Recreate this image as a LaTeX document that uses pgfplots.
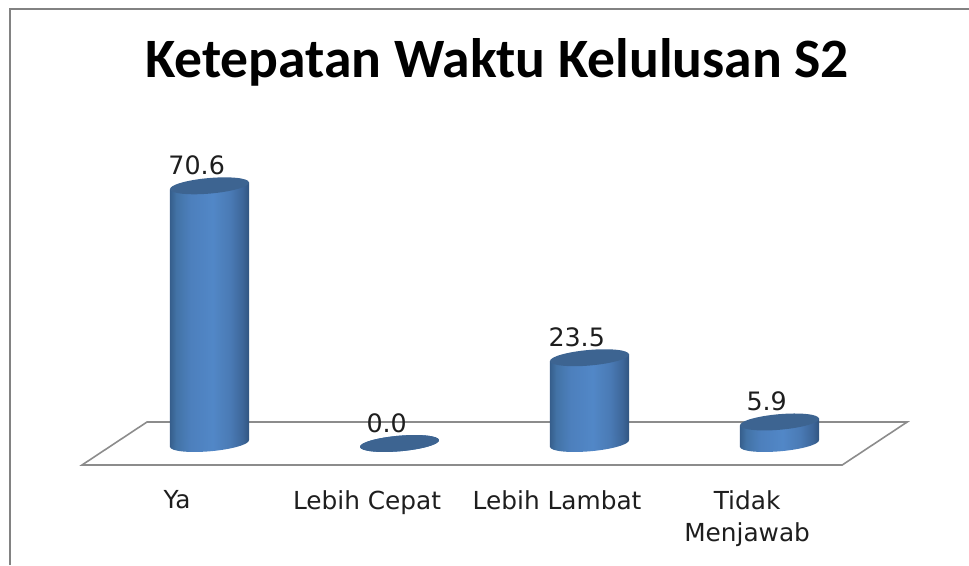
\documentclass[border=0pt]{standalone}
\usepackage{pgfplots}
\pgfplotsset{compat=1.18}
\usepackage{fontspec}
\setmainfont{DejaVu Sans}
\newfontfamily\carlito{Carlito}
\definecolor{txt}{RGB}{30,30,30}
\definecolor{floorc}{RGB}{140,140,140}
\definecolor{framec}{RGB}{130,130,130}
\definecolor{topc}{RGB}{61,100,145}
\pgfdeclarehorizontalshading{cyl}{100bp}{
  rgb(0bp)=(0.21,0.37,0.55);
  rgb(25bp)=(0.21,0.37,0.55);
  rgb(29bp)=(0.26,0.45,0.65);
  rgb(38bp)=(0.30,0.50,0.74);
  rgb(52bp)=(0.32,0.53,0.78);
  rgb(63bp)=(0.29,0.48,0.71);
  rgb(71bp)=(0.24,0.40,0.60);
  rgb(75bp)=(0.19,0.33,0.50);
  rgb(100bp)=(0.19,0.33,0.50)}
\pgfdeclareplotmark{cyltop}{%
  \pgfpathellipse{\pgfpointorigin}{\pgfqpoint{29.6pt}{2.6pt}}{\pgfqpoint{-0.7pt}{5.8pt}}%
  \pgfsetfillcolor{topc}\pgfusepathqfill}
\pgfdeclareplotmark{cylbase}{%
  \pgfpathellipse{\pgfpointorigin}{\pgfqpoint{29.6pt}{2.6pt}}{\pgfqpoint{-0.7pt}{5.8pt}}%
  \pgfshadepath{cyl}{0}\pgfusepath{discard}}
\pgfplotstableread{
x y
0 70.6
1 0.0
2 23.5
3 5.9
}\values
\pgfplotstableread{
x y
0 0
1 0
2 0
3 0
}\bases
\begin{document}
\begin{tikzpicture}
\useasboundingbox (0,0) rectangle (726.75pt,423.75pt);
\begin{axis}[
  at={(0,0)},anchor=south west,
  scale only axis,width=726.75pt,height=423.75pt,
  xmin=-1.10263,xmax=3.99737,ymin=-33.288,ymax=121.507,
  clip=false,
  axis line style={draw=none},
  major tick length=0pt,
  ytick=\empty,
  xtick={0,1,2,3},
  xticklabels={Ya,Lebih Cepat,Lebih Lambat,{Tidak\\Menjawab}},
  tick label style={text=txt},
  xticklabel style={align=center,anchor=north,inner sep=0pt,xshift=-24.3pt,yshift=56pt,
    font=\fontsize{18.6}{24.3pt}\selectfont},
  title={\carlito\bfseries Ketepatan Waktu Kelulusan S2},
  title style={at={(0.513,1)},anchor=base,yshift=-64pt,text=black,inner sep=0pt,
    font=\fontsize{41.7}{48}\selectfont},
]
% frame
\addplot[framec,line width=1.6pt,no marks,forget plot] coordinates {(-1.05,-33.288)(-1.05,119.04)(3.99737,119.04)};
% floor
\addplot[floorc,line width=1.2pt,no marks,forget plot] coordinates {(-0.671,-5.89)(-0.329,5.89)(3.672,5.89)(3.33,-5.89)} --cycle;
% bases
\addplot[only marks,mark=cylbase,forget plot] table[x=x,y=y] {\bases};
% cylinder sides
\addplot[draw=none,shading=cyl,no marks,forget plot] coordinates {(-0.208,-0.96)(-0.208,69.64)(0.208,71.56)(0.208,0.96)} --cycle;
\addplot[draw=none,shading=cyl,no marks,forget plot] coordinates {(1.792,-0.96)(1.792,22.54)(2.208,24.46)(2.208,0.96)} --cycle;
\addplot[draw=none,shading=cyl,no marks,forget plot] coordinates {(2.792,-0.96)(2.792,4.94)(3.208,6.86)(3.208,0.96)} --cycle;
% tops and labels
\addplot[only marks,mark=cyltop,forget plot,
  point meta=y,
  nodes near coords,
  nodes near coords style={anchor=base,xshift=-9.6pt,yshift=8.6pt,inner sep=0pt,text=txt,
    font=\fontsize{19}{22}\selectfont,
    /pgf/number format/fixed,/pgf/number format/fixed zerofill,/pgf/number format/precision=1,
    /pgf/number format/assume math mode=true},
] table[x=x,y=y] {\values};
\end{axis}
\end{tikzpicture}
\end{document}
